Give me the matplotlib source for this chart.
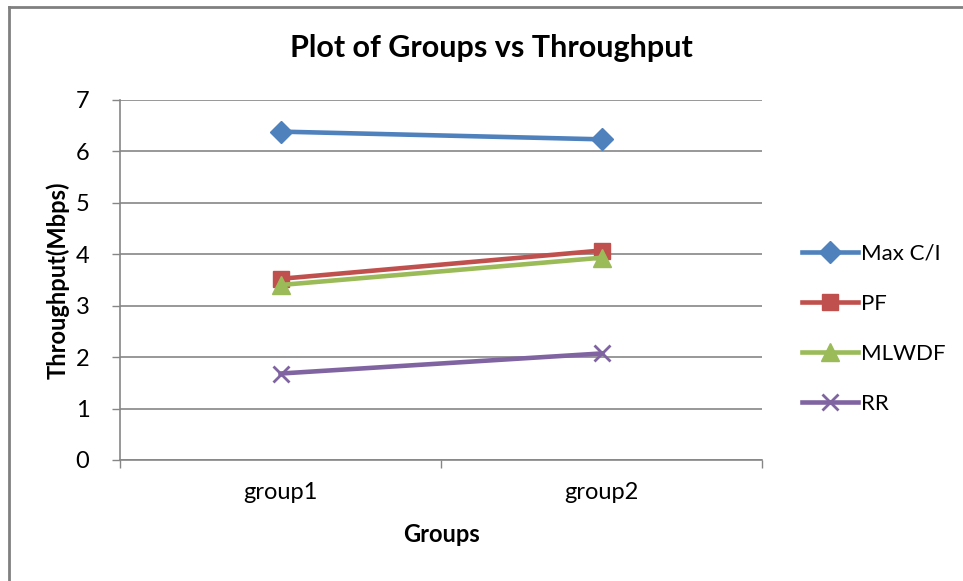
import matplotlib.pyplot as plt
from matplotlib.lines import Line2D

plt.rcParams['font.family'] = ['Lato', 'DejaVu Sans']

groups = ["group1", "group2"]
maxci = [6.38, 6.23]
pf = [3.52, 4.07]
mlwdf = [3.40, 3.93]
rr = [1.68, 2.07]

fig = plt.figure(figsize=(9.63, 5.81), dpi=100)
ax = fig.add_axes([120/963, 1 - 460/581, 642/963, 360.3/581])

xs = [0.5, 1.5]
ax.plot(xs, maxci, color="#4F81BD", lw=3.3, marker="D", ms=11, label="Max C/I")
ax.plot(xs, pf, color="#C0504D", lw=3.3, marker="s", ms=11, label="PF")
ax.plot(xs, mlwdf, color="#9BBB59", lw=3.3, marker="^", ms=13, label="MLWDF")
ax.plot(xs, rr, color="#8064A2", lw=3.3, marker="x", ms=12, mew=2, label="RR")

ax.set_xlim(0, 2)
ax.set_ylim(0, 7)
ax.set_yticks(range(0, 8))
ax.set_xticks([0, 1, 2])
ax.set_xticklabels([])
ax.set_xticks(xs, minor=True)
ax.set_xticklabels(groups, minor=True)
ax.tick_params(axis="x", which="minor", length=0, pad=16, labelsize=17)
ax.tick_params(axis="x", which="major", length=6, color="#868686", width=1)
ax.tick_params(axis="y", length=6, color="#868686", width=1, labelsize=17, pad=16)
ax.yaxis.grid(True, color="#868686", lw=1.2)
ax.set_axisbelow(True)
for s in ["top", "right"]:
    ax.spines[s].set_visible(False)
for s in ["left", "bottom"]:
    ax.spines[s].set_color("#868686")
    ax.spines[s].set_linewidth(1.2)

ax.set_xlabel("Groups", fontsize=17, fontweight="bold", labelpad=14)
ax.set_ylabel("Throughput(Mbps)", fontsize=17, fontweight="bold")
ax.yaxis.set_label_coords(-0.078, 0.5)
fig.text(491/963, 1 - 48/581, "Plot of Groups vs Throughput", fontsize=22,
         fontweight="bold", ha="center", va="center")

ax.legend(loc="center left", bbox_to_anchor=(782/963, 1 - 329/581),
          bbox_transform=fig.transFigure, frameon=False, fontsize=16,
          handlelength=2.5, handletextpad=0.15, labelspacing=1.35)

# outer chart border (left and top edges)
fig.add_artist(Line2D([9/963, 9/963], [0, 1 - 6.5/581], color="#808080", lw=2))
fig.add_artist(Line2D([9/963, 1], [1 - 6.5/581, 1 - 6.5/581], color="#808080", lw=2))

fig.savefig("out.png", dpi=100)
